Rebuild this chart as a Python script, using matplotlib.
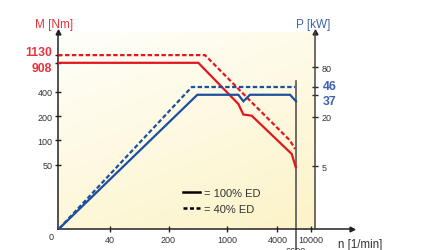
import numpy as np
import matplotlib
matplotlib.use('Agg')
import matplotlib.pyplot as plt
from matplotlib.ticker import NullLocator

plt.rcParams['font.family'] = ['Liberation Sans', 'DejaVu Sans']

### Data

# Torque M [Nm] vs speed n [1/min]
n_m100 = [9.6, 454, 1365, 1566, 1972, 5930, 6620]
m100 = [908, 908, 282, 209, 202, 68, 46.7]
n_m40 = [9.6, 546, 1883, 5660, 6490]
m40 = [1130, 1130, 310, 99.6, 78.4]

# Power P [kW] vs speed n [1/min]
n_p100 = [9.9, 442, 1365, 1566, 1880, 5660, 6670]
p100 = [0.87, 37, 37, 30.8, 37, 37, 30.8]
n_p40 = [9.9, 379, 6520]
p40 = [0.87, 46, 46]

n_max = 6650
n_max_label = '6600'

x_ticks = [40, 200, 1000, 4000, 10000]
x_labels = ['40', '200', '1000', '4000', '10000']
m_ticks = [50, 100, 200, 400, 908, 1130]
m_labels = ['50', '100', '200', '400', '', '']
p_ticks = [5, 20, 37, 46, 80]
p_labels = ['5', '20', '', '', '80']

# highlighted rated values: (value, label, vertical offset in points)
m_marks = [(1130, '1130', 2.2), (908, '908', -3.6)]
p_marks = [(46, '46', 0.7), (37, '37', -4.3)]

red = '#e3161e'
blue = '#1d4f9f'
red_txt = '#e8323c'
blue_txt = '#3d62ad'
grey = '#333333'
W, H = 428, 251

### Plot

fig = plt.figure(figsize=(W / 100, H / 100), dpi=100)
rect = [58 / W, 21 / H, 294 / W, 197 / H]

# background gradient
bg = fig.add_axes([58 / W, 21 / H, (315 - 58) / W, 197 / H], zorder=0)
rows, cols = 100, 100
ty = np.linspace(0, 1, rows)[:, None]
tx = np.linspace(0, 1, cols)[None, :]
t = np.clip(0.7 * ty + 0.35 * tx, 0, 1)
c0 = np.array([1.0, 1.0, 0.985])
c1 = np.array([0.99, 0.955, 0.79])
img = c0[None, None, :] * (1 - t[..., None]) + c1[None, None, :] * t[..., None]
bg.imshow(img, aspect='auto', extent=[0, 1, 0, 1], interpolation='bilinear')
bg.axis('off')

ax = fig.add_axes(rect, zorder=2)
ax.patch.set_alpha(0)
ax.set_xscale('log')
ax.set_yscale('log')
ax.set_xlim(9.57, 31100)
ax.set_ylim(8.07, 2180)

ax2 = ax.twinx()
ax2.set_yscale('log')
ax2.set_ylim(0.859, 215)
ax2.patch.set_alpha(0)

# curves
dash = (0, (2.0, 1.1))
ax.plot(n_m100, m100, color=red, lw=1.6, solid_joinstyle='miter', zorder=3)
ax.plot(n_m40, m40, color=red, lw=1.6, linestyle=dash, zorder=3)
ax2.plot(n_p100, p100, color=blue, lw=1.6, solid_joinstyle='miter', zorder=3)
ax2.plot(n_p40, p40, color=blue, lw=1.6, linestyle=dash, zorder=3)

# max speed line
ax.plot([n_max, n_max], [541, 4.4], color='#555555', lw=1.2, clip_on=False, zorder=2)

# axes styling
for s in ['top', 'right']:
    ax.spines[s].set_visible(False)
for s in ['top', 'left', 'bottom']:
    ax2.spines[s].set_visible(False)
for s in ['left', 'bottom']:
    ax.spines[s].set_color('#222222')
    ax.spines[s].set_linewidth(1.1)
ax2.spines['right'].set_position(('data', 11170))
ax2.spines['right'].set_color('#444444')
ax2.spines['right'].set_linewidth(1.1)

ax.xaxis.set_minor_locator(NullLocator())
ax.yaxis.set_minor_locator(NullLocator())
ax2.yaxis.set_minor_locator(NullLocator())

ax.set_xticks(x_ticks)
ax.set_xticklabels(x_labels)
ax.set_yticks(m_ticks)
ax.set_yticklabels(m_labels)
ax2.set_yticks(p_ticks)
ax2.set_yticklabels(p_labels)

ax.tick_params(axis='both', direction='inout', length=5, width=1.0, color='#222222',
               labelsize=6.5, labelcolor=grey, pad=1.5)
ax2.tick_params(axis='y', direction='inout', length=5, width=1.0, color='#222222',
                labelsize=6.5, labelcolor=grey, pad=2.5)

# bold rated values next to their ticks
for val, lab, dy in m_marks:
    ax.annotate(lab, xy=(0, val), xycoords=('axes fraction', 'data'),
                xytext=(-4.3, dy), textcoords='offset points', ha='right', va='center',
                color=red_txt, fontsize=8.8, fontweight='bold')
for val, lab, dy in p_marks:
    ax2.annotate(lab, xy=(11170, val), xycoords='data',
                 xytext=(6, dy), textcoords='offset points', ha='left', va='center',
                 color=blue_txt, fontsize=8.8, fontweight='bold', annotation_clip=False)

# arrow heads
ax.plot([0], [1], marker='^', color='#222222', ms=3.5, transform=ax.transAxes, clip_on=False)
ax.plot([1], [0], marker='>', color='#222222', ms=3.5, transform=ax.transAxes, clip_on=False)
ax2.plot([11170], [215], marker='^', color='#222222', ms=3.5, clip_on=False)

# axis titles and extra labels
fig.text(54 / W, 1 - 25 / H, 'M [Nm]', color=red_txt, fontsize=8.5, ha='center', va='center')
fig.text(313 / W, 1 - 25 / H, 'P [kW]', color=blue_txt, fontsize=8.5, ha='center', va='center')
fig.text(360 / W, 1 - 245 / H, 'n [1/min]', color=grey, fontsize=8.3, ha='center', va='center')
fig.text(51 / W, 1 - 238 / H, '0', color=grey, fontsize=6.5, ha='center', va='center')
fig.text(296 / W, 1 - 247 / H, n_max_label, color=grey, fontsize=6.5, ha='center', va='top')

# legend
fig.add_artist(plt.Line2D([183 / W, 200 / W], [1 - 193 / H, 1 - 193 / H], color='black', lw=1.8))
fig.add_artist(plt.Line2D([183 / W, 200 / W], [1 - 209 / H, 1 - 209 / H], color='black', lw=1.8,
                          linestyle=(0, (1.6, 1.0))))
fig.text(204 / W, 1 - 194 / H, '= 100% ED', color=grey, fontsize=8, va='center')
fig.text(204 / W, 1 - 210 / H, '= 40% ED', color=grey, fontsize=8, va='center')

fig.savefig('out.png', dpi=100)
